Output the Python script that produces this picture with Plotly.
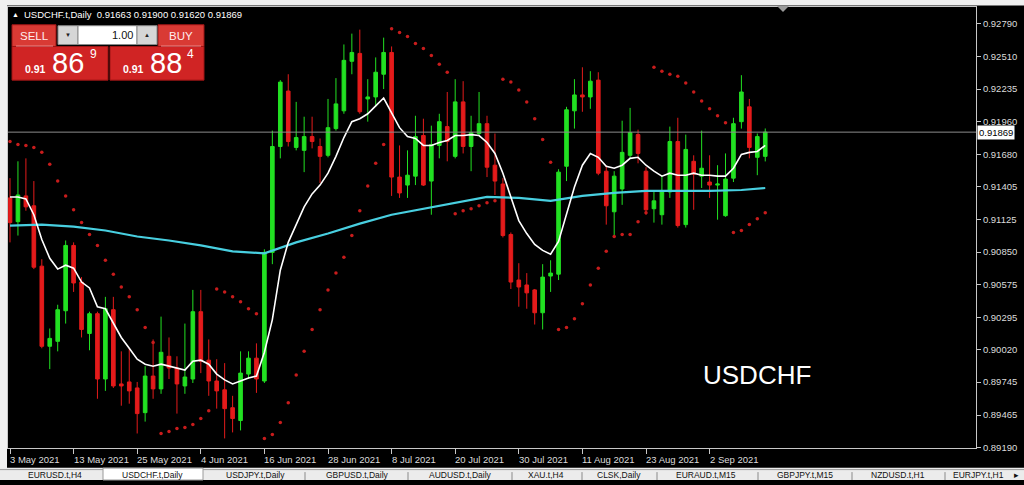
import plotly.graph_objects as go

W, H = 1024, 485

# ---------------- data ----------------
bar_index = list(range(96))
opens = [0.91310, 0.91108, 0.91327, 0.91243, 0.90730, 0.90049, 0.90091, 0.90351, 0.90906, 0.90595,
         0.90158, 0.90326, 0.89771, 0.90360, 0.89729, 0.89746, 0.89695, 0.89485, 0.89796, 0.89687,
         0.89964, 0.89864, 0.89712, 0.89771, 0.90343, 0.89931, 0.89754, 0.89679, 0.89527, 0.89418,
         0.89813, 0.89948, 0.89754, 0.90847, 0.91747, 0.92218, 0.91739, 0.91714, 0.91831, 0.91747,
         0.91672, 0.91899, 0.92050, 0.92471, 0.92538, 0.92151, 0.92168, 0.92361, 0.92546, 0.91487,
         0.91419, 0.91495, 0.91840, 0.91453, 0.91756, 0.91916, 0.91663, 0.92126, 0.91747, 0.91857,
         0.91941, 0.91588, 0.91428, 0.90999, 0.90612, 0.90570, 0.90528, 0.90334, 0.90646, 0.90662,
         0.91579, 0.92050, 0.92185, 0.92168, 0.92311, 0.91537, 0.91192, 0.91386, 0.91672, 0.91848,
         0.91537, 0.91218, 0.91167, 0.91361, 0.91789, 0.91083, 0.91621, 0.91495, 0.91445, 0.91419,
         0.91159, 0.91478, 0.91958, 0.92084, 0.91655, 0.91663]
highs = [0.91478, 0.91621, 0.91646, 0.91453, 0.90789, 0.90200, 0.90402, 0.90948, 0.90932, 0.90637,
         0.90343, 0.90343, 0.90469, 0.90469, 0.90006, 0.90032, 0.89746, 0.89880, 0.90107, 0.90301,
         0.90124, 0.89964, 0.90242, 0.90528, 0.90528, 0.90107, 0.89939, 0.89906, 0.89628, 0.90006,
         0.90006, 0.90074, 0.90873, 0.91882, 0.92311, 0.92361, 0.92126, 0.92000, 0.92000, 0.91815,
         0.92151, 0.92328, 0.92614, 0.92706, 0.92740, 0.92319, 0.92504, 0.92672, 0.92597, 0.91756,
         0.91714, 0.92008, 0.91983, 0.91924, 0.92025, 0.92210, 0.92319, 0.92302, 0.92008, 0.92210,
         0.92008, 0.91857, 0.91478, 0.91016, 0.90755, 0.90671, 0.90536, 0.90747, 0.90780, 0.91554,
         0.92084, 0.92319, 0.92420, 0.92387, 0.92378, 0.91588, 0.91537, 0.91966, 0.92075, 0.91890,
         0.91571, 0.91377, 0.91503, 0.91916, 0.91991, 0.91848, 0.91672, 0.91882, 0.91672, 0.91588,
         0.91688, 0.91991, 0.92353, 0.92151, 0.91857, 0.91900]
lows = [0.90932, 0.90990, 0.91201, 0.90705, 0.90032, 0.89855, 0.90006, 0.90242, 0.90511, 0.90124,
        0.90015, 0.89603, 0.89670, 0.89695, 0.89544, 0.89561, 0.89308, 0.89409, 0.89603, 0.89645,
        0.89771, 0.89477, 0.89645, 0.89737, 0.89821, 0.89628, 0.89519, 0.89266, 0.89317, 0.89334,
        0.89771, 0.89653, 0.89737, 0.90747, 0.91646, 0.91747, 0.91714, 0.91529, 0.91731, 0.91436,
        0.91655, 0.91882, 0.92025, 0.92361, 0.92025, 0.91958, 0.92084, 0.92235, 0.91327, 0.91310,
        0.91310, 0.91419, 0.91411, 0.91167, 0.91646, 0.91621, 0.91646, 0.91688, 0.91537, 0.91840,
        0.91487, 0.91335, 0.90974, 0.90536, 0.90385, 0.90368, 0.90234, 0.90192, 0.90511, 0.90612,
        0.91453, 0.91899, 0.92042, 0.92067, 0.91503, 0.91083, 0.90974, 0.91251, 0.91646, 0.91604,
        0.91167, 0.91100, 0.91083, 0.91310, 0.91058, 0.91058, 0.91209, 0.91394, 0.91310, 0.91125,
        0.91150, 0.91445, 0.91899, 0.91646, 0.91503, 0.91620]
closes = [0.91100, 0.91335, 0.91234, 0.90721, 0.90049, 0.90116, 0.90360, 0.90906, 0.90587, 0.90192,
          0.90326, 0.89771, 0.90368, 0.89712, 0.89712, 0.89670, 0.89477, 0.89796, 0.89687, 0.89998,
          0.89864, 0.89729, 0.89788, 0.90343, 0.89922, 0.89754, 0.89670, 0.89519, 0.89435, 0.89821,
          0.89948, 0.89771, 0.90847, 0.91747, 0.92294, 0.91789, 0.91823, 0.91831, 0.91789, 0.91663,
          0.91907, 0.92109, 0.92479, 0.92546, 0.92042, 0.92168, 0.92378, 0.92546, 0.91487, 0.91352,
          0.91503, 0.91831, 0.91419, 0.91764, 0.91958, 0.91789, 0.92126, 0.91747, 0.91865, 0.91941,
          0.91571, 0.91453, 0.90990, 0.90595, 0.90553, 0.90503, 0.90334, 0.90637, 0.90671, 0.91529,
          0.92059, 0.92185, 0.92168, 0.92302, 0.91520, 0.91243, 0.91495, 0.91697, 0.91865, 0.91688,
          0.91209, 0.91285, 0.91361, 0.91789, 0.91075, 0.91722, 0.91512, 0.91562, 0.91419, 0.91428,
          0.91470, 0.91941, 0.92210, 0.91739, 0.91831, 0.91869]

fast_ma = [0.91318, 0.91318, 0.91302, 0.91167, 0.90957, 0.90797, 0.90705, 0.90738, 0.90713, 0.90595,
           0.90545, 0.90385, 0.90368, 0.90242, 0.90124, 0.90032, 0.89939, 0.89897, 0.89880, 0.89897,
           0.89880, 0.89864, 0.89847, 0.89922, 0.89931, 0.89897, 0.89813, 0.89763, 0.89729, 0.89754,
           0.89779, 0.89796, 0.89998, 0.90276, 0.90696, 0.90932, 0.91091, 0.91234, 0.91344, 0.91419,
           0.91520, 0.91663, 0.91823, 0.91958, 0.91983, 0.92025, 0.92092, 0.92159, 0.92033, 0.91907,
           0.91831, 0.91815, 0.91756, 0.91756, 0.91781, 0.91798, 0.91840, 0.91840, 0.91848, 0.91840,
           0.91781, 0.91688, 0.91520, 0.91318, 0.91117, 0.91007, 0.90915, 0.90864, 0.90831, 0.90940,
           0.91167, 0.91403, 0.91588, 0.91688, 0.91655, 0.91579, 0.91562, 0.91588, 0.91646, 0.91655,
           0.91588, 0.91537, 0.91495, 0.91520, 0.91503, 0.91503, 0.91520, 0.91503, 0.91503, 0.91495,
           0.91495, 0.91562, 0.91680, 0.91697, 0.91705, 0.91756]

slow_ma_index = [0, 4, 8, 12, 16, 20, 24, 28, 32, 36, 40, 44, 48, 52, 56, 60, 64, 68, 72, 76, 80, 84, 88, 92, 95]
slow_ma = [0.91075, 0.91083, 0.91066, 0.91033, 0.90982, 0.90948, 0.90906, 0.90856, 0.90839, 0.90932,
           0.91007, 0.91091, 0.91167, 0.91218, 0.91268, 0.91318, 0.91310, 0.91285, 0.91327, 0.91352,
           0.91369, 0.91369, 0.91369, 0.91377, 0.91394]

sar = [0.91789, 0.91764, 0.91756, 0.91739, 0.91697, 0.91596, 0.91453, 0.91327, 0.91209, 0.91100,
       0.90999, 0.90906, 0.90780, 0.90662, 0.90553, 0.90469, 0.90360, 0.90208, 0.90082, 0.89308,
       0.89325, 0.89350, 0.89359, 0.89384, 0.89435, 0.89502, 0.90536, 0.90511, 0.90469, 0.90427,
       0.90368, 0.90326, 0.89266, 0.89300, 0.89401, 0.89569, 0.89805, 0.90006, 0.90192, 0.90360,
       0.90528, 0.90671, 0.90805, 0.90990, 0.91201, 0.91411, 0.91604, 0.91764, 0.92748, 0.92715,
       0.92681, 0.92622, 0.92580, 0.92521, 0.92445, 0.92378, 0.91175, 0.91201, 0.91218, 0.91243,
       0.91268, 0.91285, 0.92319, 0.92294, 0.92227, 0.92126, 0.91983, 0.91806, 0.91613, 0.90192,
       0.90208, 0.90284, 0.90410, 0.90570, 0.90713, 0.90856, 0.90982, 0.90999, 0.90999, 0.91108,
       0.91184, 0.92420, 0.92387, 0.92361, 0.92344, 0.92286, 0.92210, 0.92134, 0.92067, 0.92008,
       0.91949, 0.91016, 0.91033, 0.91083, 0.91133, 0.91184]

tick_index = [0, 8, 16, 24, 32, 40, 48, 56, 64, 72, 80, 88]
tick_dates = ["3 May 2021", "13 May 2021", "25 May 2021", "4 Jun 2021", "16 Jun 2021", "28 Jun 2021",
              "8 Jul 2021", "20 Jul 2021", "30 Jul 2021", "11 Aug 2021", "23 Aug 2021", "2 Sep 2021"]
price_ticks = [0.92790, 0.92510, 0.92235, 0.91960, 0.91680, 0.91405, 0.91125, 0.90850,
               0.90575, 0.90295, 0.90020, 0.89745, 0.89465, 0.89190]
price_labels = ["0.92790", "0.92510", "0.92235", "0.91960", "0.91680", "0.91405", "0.91125", "0.90850",
                "0.90575", "0.90295", "0.90020", "0.89745", "0.89465", "0.89190"]
last_price = 0.91869
last_price_label = "0.91869"
chart_title = "USDCHF.t,Daily"
header_ohlc = ["0.91663", "0.91900", "0.91620", "0.91869"]
watermark = "USDCHF"
sell_big, sell_small = "86", "9"
buy_big, buy_small = "88", "4"
price_prefix = "0.91"
lot_size = "1.00"
tab_names = ["EURUSD.t,H4", "USDCHF.t,Daily", "USDJPY.t,Daily", "GBPUSD.t,Daily", "AUDUSD.t,Daily",
             "XAU.t,H4", "CLSK,Daily", "EURAUD.t,M15", "GBPJPY.t,M15", "NZDUSD.t,H1", "EURJPY.t,H1"]
tab_centers = [55, 152, 255, 357, 460, 546, 619, 706, 805, 898, 978]

# ---------------- styling ----------------
GREEN = "#22e022"
RED = "#e41b1b"
CYAN = "#48cfe0"
SAR_RED = "#c81c1c"
AXIS_TXT = "#dcdcdc"
FRAME = "#c8c8c8"
FONT = "Liberation Sans, Arial, sans-serif"


def px(x):
    return x / W


def py(y):
    return 1 - y / H


fig = go.Figure()

fig.add_trace(go.Candlestick(
    x=bar_index, open=opens, high=highs, low=lows, close=closes,
    increasing=dict(line=dict(color=GREEN, width=1), fillcolor=GREEN),
    decreasing=dict(line=dict(color=RED, width=1), fillcolor=RED),
    whiskerwidth=0, showlegend=False, hoverinfo="skip"))

fig.add_trace(go.Scatter(x=slow_ma_index, y=slow_ma, mode="lines",
                         line=dict(color=CYAN, width=2.2), showlegend=False, hoverinfo="skip"))
fig.add_trace(go.Scatter(x=bar_index, y=fast_ma, mode="lines",
                         line=dict(color="white", width=1.6), showlegend=False, hoverinfo="skip"))
fig.add_trace(go.Scatter(x=bar_index, y=sar, mode="markers",
                         marker=dict(color=SAR_RED, size=3.5, line=dict(width=0)),
                         showlegend=False, hoverinfo="skip"))

shapes = []
# current price line
shapes.append(dict(type="line", xref="paper", yref="y", x0=px(8), x1=px(976), y0=last_price, y1=last_price,
                   line=dict(color="#8c8c8c", width=1)))
# window frame strips
shapes.append(dict(type="rect", xref="paper", yref="paper", x0=0, x1=1, y0=py(5.5), y1=1,
                   fillcolor="#f0f0f0", line=dict(width=0), layer="above"))
shapes.append(dict(type="rect", xref="paper", yref="paper", x0=0, x1=px(7), y0=py(473), y1=1,
                   fillcolor="#f0f0f0", line=dict(width=0), layer="above"))
shapes.append(dict(type="rect", xref="paper", yref="paper", x0=0, x1=1, y0=0, y1=py(472.5),
                   fillcolor="#ececec", line=dict(width=0), layer="above"))
shapes.append(dict(type="line", xref="paper", yref="paper", x0=0, x1=1, y0=py(474.5), y1=py(474.5),
                   line=dict(color="#9a9a9a", width=1), layer="above"))
# active tab
shapes.append(dict(type="rect", xref="paper", yref="paper", x0=px(103), x1=px(203), y0=0, y1=py(473),
                   fillcolor="#ffffff", line=dict(color="#9a9a9a", width=1), layer="above"))
for sx in [305, 408, 512, 582, 657, 758, 852, 945]:
    shapes.append(dict(type="line", xref="paper", yref="paper", x0=px(sx), x1=px(sx), y0=0, y1=py(477),
                       line=dict(color="#8a8a8a", width=1), layer="above"))
# chart shift marker
shapes.append(dict(type="path", xref="paper", yref="paper",
                   path=f"M {px(777)},{py(6)} L {px(789)},{py(6)} L {px(783)},{py(12)} Z",
                   fillcolor="#9a9a9a", line=dict(width=0), layer="above"))

# one-click trading panel
def box(x0, y0, x1, y1, fill, line="#9c1414"):
    shapes.append(dict(type="rect", xref="paper", yref="paper", x0=px(x0), x1=px(x1), y0=py(y1), y1=py(y0),
                       fillcolor=fill, line=dict(color=line, width=1), layer="above"))

box(12, 25, 56, 47, "#d93a34")
box(158, 25, 204, 47, "#d93a34")
box(12, 47, 108, 81, "#d02424")
box(110, 47, 204, 81, "#d02424")
box(58, 26, 78, 45, "#d6d6d6", "#8a8a8a")
box(78, 26, 137, 45, "#ffffff", "#8a8a8a")
box(137, 26, 157, 45, "#d6d6d6", "#8a8a8a")
for (a, b) in [(16, 53), (161, 201)]:
    shapes.append(dict(type="line", xref="paper", yref="paper", x0=px(a), x1=px(b), y0=py(46.5), y1=py(46.5),
                       line=dict(color="#f08a8a", width=1), layer="above"))

ann = []


def text(x, y, t, size, color, xanchor="center", yanchor="middle", bold=False, family=FONT):
    ann.append(dict(xref="paper", yref="paper", x=px(x), y=py(y), text=(f"<b>{t}</b>" if bold else t),
                    showarrow=False, xanchor=xanchor, yanchor=yanchor,
                    font=dict(family=family, size=size, color=color), borderpad=0))

# header
text(15.5, 15, "▲", 7, "white")
text(23, 15, chart_title + "\u00a0\u00a0" + " ".join(header_ohlc), 9.5, "white", xanchor="left")

# panel texts
text(34, 36, "SELL", 11.5, "#ffecec")
text(181, 36, "BUY", 11.5, "#ffecec")
text(68, 35.5, "▼", 6, "#222222")
text(147, 35.5, "▲", 6, "#222222")
text(134, 35.5, lot_size, 11, "#111111", xanchor="right")
text(24, 70, price_prefix, 10.5, "white", xanchor="left", bold=True)
text(67.5, 64, sell_big, 29, "white")
text(93.5, 55, sell_small, 12, "white")
text(122, 70, price_prefix, 10.5, "white", xanchor="left", bold=True)
text(166, 64, buy_big, 29, "white")
text(190.5, 55, buy_small, 12, "white")

# watermark
text(757, 379, watermark, 26, "white")

# date labels
for i, d in zip(tick_index, tick_dates):
    ann.append(dict(xref="x", yref="paper", x=i, y=py(464), text=d, showarrow=False,
                    xanchor="left", yanchor="middle", xshift=-1,
                    font=dict(family=FONT, size=9.5, color=AXIS_TXT), borderpad=0))

# current price label on axis
ann.append(dict(xref="paper", yref="y", x=px(977), y=last_price, text=last_price_label, showarrow=False,
                xanchor="left", yanchor="middle", bgcolor="white", borderpad=1,
                font=dict(family=FONT, size=9.5, color="black")))

# tabs (shrunk so they fit inside the 10 px strip)
for c, name in zip(tab_centers, tab_names):
    text(c, 480, name, 8.5, "#111111")
text(1016, 480, "▸", 8.5, "#111111")

fig.update_layout(
    width=W, height=H,
    margin=dict(l=0, r=0, t=0, b=0),
    paper_bgcolor="black", plot_bgcolor="black",
    showlegend=False,
    boxgap=0.35,
    xaxis=dict(domain=[px(8), px(976)], range=[-0.2516, 121.51], showgrid=False, zeroline=False,
               showline=True, linecolor=FRAME, linewidth=1, mirror=True,
               ticks="outside", ticklen=5, tickcolor=FRAME, tickvals=tick_index, showticklabels=False,
               rangeslider=dict(visible=False), fixedrange=True),
    yaxis=dict(domain=[py(452.5), py(7)], range=[0.89186, 0.92933], side="right", showgrid=False,
               zeroline=False, showline=True, linecolor=FRAME, linewidth=1, mirror=True,
               ticks="outside", ticklen=4, tickcolor=FRAME, tickvals=price_ticks, ticktext=price_labels,
               tickfont=dict(family=FONT, size=9.5, color=AXIS_TXT), fixedrange=True),
    shapes=shapes,
    annotations=ann,
)

fig.write_html("out.html", config={"displayModeBar": False},
               post_script="document.body.style.margin='0';document.body.style.overflow='hidden';")
